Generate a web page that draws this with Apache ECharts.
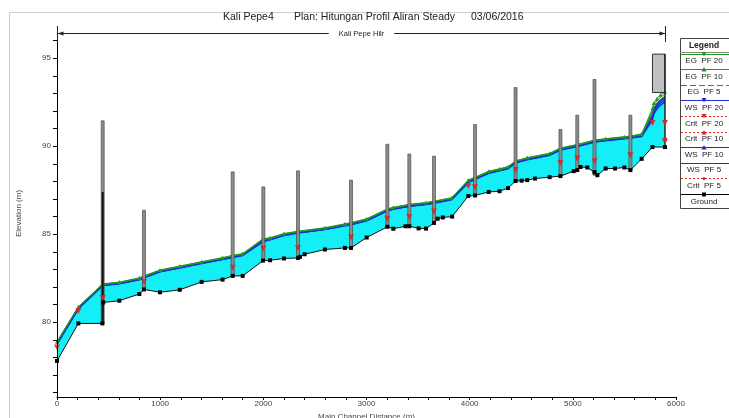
<!DOCTYPE html>
<html><head><meta charset="utf-8">
<script src="https://cdn.jsdelivr.net/npm/echarts@6/dist/echarts.min.js"></script>
<style>html,body{margin:0;padding:0;background:#fff;overflow:hidden}#c{width:729px;height:418px}</style>
</head><body><div id="c"></div>
<script>
// ---------- DATA ----------
const groundDist = [0,207,440,448,604,798,843,998,1190,1402,1605,1703,1800,1997,2065,2200,2336,2355,2400,2598,2791,2850,3002,3202,3260,3378,3415,3505,3577,3654,3690,3740,3830,3987,4052,4185,4290,4372,4445,4504,4558,4633,4775,4880,5008,5043,5075,5140,5210,5238,5318,5409,5499,5558,5667,5772,5893];
const groundElev = [77.8,79.93,79.93,81.12,81.22,81.6,81.86,81.7,81.84,82.29,82.42,82.63,82.63,83.5,83.52,83.62,83.65,83.71,83.86,84.13,84.22,84.22,84.81,85.42,85.31,85.45,85.45,85.33,85.32,85.64,85.88,85.95,86.0,87.17,87.2,87.4,87.44,87.62,88.02,88.04,88.07,88.16,88.24,88.3,88.58,88.64,88.82,88.79,88.52,88.35,88.73,88.73,88.79,88.64,89.28,89.95,89.95];

const wsDist = [0,207,443,604,798,843,998,1190,1402,1605,1703,1800,1997,2065,2200,2336,2598,2791,2850,3002,3202,3260,3415,3577,3654,3825,3987,4052,4185,4290,4372,4445,4558,4775,4880,5043,5210,5318,5499,5558,5667,5772,5785,5815,5850,5893];
const wsPF20 = [78.80,80.80,82.12,82.22,82.45,82.56,82.90,83.12,83.37,83.60,83.72,83.83,84.62,84.72,84.97,85.10,85.30,85.52,85.58,85.80,86.36,86.46,86.62,86.72,86.80,87.00,87.98,88.15,88.50,88.64,88.76,89.08,89.27,89.52,89.82,90.02,90.27,90.35,90.46,90.50,90.62,91.75,92.10,92.38,92.60,92.77];
const wsPF10 = [78.78,80.78,82.10,82.20,82.43,82.54,82.88,83.10,83.35,83.58,83.70,83.81,84.60,84.70,84.95,85.08,85.28,85.50,85.56,85.78,86.34,86.44,86.60,86.70,86.78,86.98,87.96,88.13,88.48,88.62,88.74,89.06,89.25,89.50,89.80,90.00,90.25,90.33,90.44,90.48,90.58,91.62,91.96,92.24,92.46,92.63];
const wsPF5  = [78.76,80.76,82.08,82.18,82.41,82.52,82.86,83.08,83.33,83.56,83.68,83.79,84.58,84.68,84.93,85.06,85.26,85.48,85.54,85.76,86.32,86.42,86.58,86.68,86.76,86.96,87.94,88.11,88.46,88.60,88.72,89.04,89.23,89.48,89.78,89.98,90.23,90.31,90.42,90.46,90.55,91.50,91.83,92.11,92.33,92.50];
const egPF20 = [78.90,80.88,82.18,82.28,82.52,82.63,82.97,83.19,83.44,83.67,83.80,83.90,84.74,84.80,85.04,85.17,85.37,85.59,85.66,85.88,86.44,86.53,86.70,86.80,86.88,87.07,88.08,88.24,88.58,88.72,88.84,89.17,89.35,89.60,89.90,90.10,90.35,90.43,90.54,90.58,90.70,92.15,92.45,92.70,92.92,93.09];
const egPF10 = [78.88,80.86,82.16,82.26,82.50,82.61,82.95,83.17,83.42,83.65,83.78,83.88,84.72,84.78,85.02,85.15,85.35,85.57,85.64,85.86,86.42,86.51,86.68,86.78,86.86,87.05,88.06,88.22,88.56,88.70,88.82,89.15,89.33,89.58,89.88,90.08,90.33,90.41,90.52,90.56,90.66,92.02,92.32,92.57,92.79,92.96];
const egPF5  = [78.86,80.84,82.14,82.24,82.48,82.59,82.93,83.15,83.40,83.63,83.76,83.86,84.70,84.76,85.00,85.13,85.33,85.55,85.62,85.84,86.40,86.49,86.66,86.76,86.84,87.03,88.04,88.20,88.54,88.68,88.80,89.13,89.31,89.56,89.86,90.06,90.31,90.39,90.50,90.54,90.62,91.90,92.20,92.45,92.67,92.84];

const critDist  = [0,207,443,843,1703,2000,2336,2850,3202,3415,3654,3987,4052,4445,4880,5043,5210,5558,5772,5893];
const critPF20  = [78.56,80.64,81.38,82.29,83.09,84.19,84.22,84.81,85.87,85.98,86.29,87.72,87.66,88.64,89.05,89.30,89.15,89.49,91.32,91.32];
const critPF5Dist = [5893];
const critPF5 = [90.38];

// vertical structure lines: station, bottom elevation, top elevation
const barDist   = [443,843,1703,2000,2336,2850,3202,3415,3654,4052,4445,4880,5043,5210,5558];
const barBottom = [79.93,81.86,82.63,83.52,83.65,84.22,85.42,85.45,85.64,87.2,88.02,88.3,88.64,88.35,88.64];
const barTop    = [91.44,86.36,88.54,87.69,88.6,88.07,90.11,89.55,89.43,91.23,93.33,90.95,91.76,93.79,91.76];
const innerDist = [443];
const innerTop  = [87.4];
// bridge deck at the upstream end
const deckDist = [5772,5893];
const deckElev = [93.05,95.23];

const yLabelValues = [80,85,90,95];
const yTickValues = [76,77,78,79,80,81,82,83,84,85,86,87,88,89,90,91,92,93,94,95,96];
const titleParts = ['Kali Pepe4','Plan: Hitungan Profil Aliran Steady','03/06/2016'];
const reachName = 'Kali Pepe Hilr';
const legendNames = ['EG  PF 20','EG  PF 10','EG  PF 5','WS  PF 20','Crit  PF 20','Crit  PF 10','WS  PF 10','WS  PF 5','Crit  PF 5','Ground'];

// ---------- CHART ----------
const FONT = '"Liberation Sans", Arial, sans-serif';
const GREEN = '#1f9a1f', BLUE = '#1f2fd8', RED = '#e3221c', CYAN = '#14eef6';
const pairs = (xs, ys) => xs.map((x, i) => [x, ys[i]]);
const chart = echarts.init(document.getElementById('c'));

const lineSeries = (data, color, width, z, extra) => Object.assign({
  type: 'line', data, symbol: 'none', animation: false, silent: true, z,
  lineStyle: { color, width }
}, extra || {});

chart.setOption({
  animation: false,
  grid: { left: 57, right: 53, top: 30, bottom: 21, outerBoundsMode: 'none', containLabel: false },
  xAxis: {
    type: 'value', min: 0, max: 6000, interval: 1000, z: 10,
    axisLine: { lineStyle: { color: '#000', width: 1 } },
    axisTick: { length: 3, lineStyle: { color: '#000' } },
    minorTick: { show: true, splitNumber: 5, length: 3, lineStyle: { color: '#000' } },
    splitLine: { show: false },
    axisLabel: { fontFamily: FONT, fontSize: 8, color: '#444', margin: 3, formatter: v => String(v) },
    name: 'Main Channel Distance (m)', nameLocation: 'middle', nameGap: 12,
    nameTextStyle: { fontFamily: FONT, fontSize: 8, color: '#444' }
  },
  yAxis: {
    type: 'value', min: 75.75, max: 96.6, z: 10,
    axisLine: { show: true, lineStyle: { color: '#000', width: 1 } },
    axisTick: { show: true, length: 4, customValues: yTickValues, lineStyle: { color: '#000' } },
    splitLine: { show: false },
    axisLabel: { fontFamily: FONT, fontSize: 8, color: '#444', margin: 6, customValues: yLabelValues },
    name: 'Elevation (m)', nameLocation: 'middle', nameRotate: 90, nameGap: 34,
    nameTextStyle: { fontFamily: FONT, fontSize: 8, color: '#444' }
  },
  series: [
    lineSeries(pairs(wsDist, wsPF20), CYAN, 0, 1, { areaStyle: { color: CYAN, opacity: 1, origin: 'start' } }),
    lineSeries(pairs(groundDist, groundElev), '#fff', 0, 2, { areaStyle: { color: '#fff', opacity: 1, origin: 'start' } }),
    lineSeries(pairs(wsDist, wsPF5), BLUE, 1.5, 3),
    lineSeries(pairs(wsDist, wsPF10), BLUE, 1.5, 3),
    lineSeries(pairs(wsDist, wsPF20), BLUE, 2, 3),
    lineSeries(pairs(wsDist, egPF5), GREEN, 1, 3),
    lineSeries(pairs(wsDist, egPF10), GREEN, 1, 3),
    lineSeries(pairs(wsDist, egPF20), GREEN, 1, 3, { symbol: 'triangle', symbolSize: 4, showAllSymbol: true, itemStyle: { color: GREEN } }),
    {
      type: 'custom', z: 4, silent: true, animation: false,
      data: barDist.map((d, i) => [d, barBottom[i], barTop[i]]),
      renderItem: (params, api) => {
        const a = api.coord([api.value(0), api.value(1)]);
        const b = api.coord([api.value(0), api.value(2)]);
        return { type: 'rect', shape: { x: a[0] - 1.5, y: b[1], width: 3, height: a[1] - b[1] },
          style: { fill: '#8c8c8c', stroke: '#3a3a3a', lineWidth: 0.6 } };
      }
    },
    {
      type: 'custom', z: 4, silent: true, animation: false,
      data: innerDist.map((d, i) => [d, barBottom[barDist.indexOf(d)], innerTop[i]]),
      renderItem: (params, api) => {
        const a = api.coord([api.value(0), api.value(1)]);
        const b = api.coord([api.value(0), api.value(2)]);
        return { type: 'line', shape: { x1: a[0], y1: a[1], x2: b[0], y2: b[1] }, style: { stroke: '#111', lineWidth: 2 } };
      }
    },
    {
      type: 'custom', z: 4, silent: true, animation: false,
      data: [[deckDist[0], deckDist[1], deckElev[0], deckElev[1]]],
      renderItem: (params, api) => {
        const p1 = api.coord([api.value(0), api.value(3)]);
        const p2 = api.coord([api.value(1), api.value(2)]);
        const gq = api.coord([api.value(1), groundElev[groundElev.length - 1]]);
        return { type: 'group', children: [
          { type: 'rect', shape: { x: p1[0], y: p1[1], width: p2[0] - p1[0], height: p2[1] - p1[1] },
            style: { fill: '#c0c0c0', stroke: '#333', lineWidth: 1 } },
          { type: 'line', shape: { x1: p2[0], y1: p1[1], x2: p2[0], y2: gq[1] }, style: { stroke: '#222', lineWidth: 1.5 } }
        ] };
      }
    },
    lineSeries(pairs(groundDist, groundElev), '#111', 1, 5, { symbol: 'rect', symbolSize: 4, showAllSymbol: true, itemStyle: { color: '#000' } }),
    { type: 'scatter', z: 6, silent: true, animation: false, data: pairs(critDist, critPF20),
      symbol: 'triangle', symbolRotate: 180, symbolSize: 6, itemStyle: { color: RED, opacity: 0.9 } },
    { type: 'scatter', z: 6, silent: true, animation: false, data: pairs(critPF5Dist, critPF5),
      symbol: 'circle', symbolSize: 5, itemStyle: { color: RED, opacity: 0.9 } }
  ]
});

// ---------- annotations: title, reach bracket, legend, frame ----------
const g = [];
const t = (x, y, text, size, align, extra) => g.push(Object.assign({ type: 'text', x, y, z: 20, silent: true,
  style: { text, fontFamily: FONT, fontSize: size, fill: '#222', align: align || 'left', verticalAlign: 'middle' } }, extra || {}));
const ln = (x1, y1, x2, y2, stroke, w, dash) => g.push({ type: 'line', z: 20, silent: true,
  shape: { x1, y1, x2, y2 }, style: { stroke, lineWidth: w || 1, lineDash: dash || null } });

ln(9.5, 12.5, 729, 12.5, '#cfcfcf', 1);
ln(9.5, 12.5, 9.5, 418, '#cfcfcf', 1);

t(223, 17, titleParts[0], 10.5);
t(294, 17, titleParts[1], 10.5);
t(471, 17, titleParts[2], 10.5);

const pa = chart.convertToPixel({ gridIndex: 0 }, [groundDist[0], 90]);
const pb = chart.convertToPixel({ gridIndex: 0 }, [groundDist[groundDist.length - 1], 90]);
const by = 33.5, xa = Math.round(pa[0]) + 0.5, xb = Math.round(pb[0]) + 0.5;
ln(xa, 26, xa, 42, '#222', 1);
ln(xb, 26, xb, 42, '#222', 1);
ln(xa, by, xb, by, '#222', 1);
g.push({ type: 'polygon', z: 20, silent: true, shape: { points: [[xa, by], [xa + 6, by - 2], [xa + 6, by + 2]] }, style: { fill: '#222' } });
g.push({ type: 'polygon', z: 20, silent: true, shape: { points: [[xb, by], [xb - 6, by - 2], [xb - 6, by + 2]] }, style: { fill: '#222' } });
t((xa + xb) / 2, by, reachName, 7.5, 'center', { style: { text: reachName, fontFamily: FONT, fontSize: 7.5, fill: '#222', align: 'center', verticalAlign: 'middle', backgroundColor: '#fff', padding: [1, 10] } });

const LX = 680, LY = 38, LW = 60, LH = 170;
g.push({ type: 'rect', z: 19, silent: true, shape: { x: LX + 0.5, y: LY + 0.5, width: LW, height: LH }, style: { fill: '#fff', stroke: '#444', lineWidth: 1 } });
t(LX + 24, LY + 7.5, 'Legend', 8.5, 'center', { style: { text: 'Legend', fontFamily: FONT, fontSize: 8.5, fontWeight: 'bold', fill: '#222', align: 'center', verticalAlign: 'middle' } });
ln(LX, LY + 14.5, LX + LW, LY + 14.5, '#888', 1);
const legStyle = [
  [GREEN, null, 'down'], [GREEN, null, 'up'], [GREEN, [6, 3], null], [BLUE, null, 'down'], [RED, [2, 2], 'down'],
  [RED, [2, 2], 'up'], [BLUE, null, 'up'], [BLUE, null, null], [RED, [2, 2], 'dot'], ['#000', null, 'sq']
];
legendNames.forEach((name, i) => {
  const ty = LY + 23 + i * 15.6;
  const ly = Math.round(ty - 7.5) + 0.5;
  const [c, dash, sym] = legStyle[i];
  ln(LX + 1, ly, LX + LW, ly, c, 1, dash);
  const cx = LX + 24;
  if (sym === 'down') g.push({ type: 'polygon', z: 21, silent: true, shape: { points: [[cx - 2.5, ly - 2.5], [cx + 2.5, ly - 2.5], [cx, ly + 2]] }, style: { fill: c } });
  if (sym === 'up') g.push({ type: 'polygon', z: 21, silent: true, shape: { points: [[cx - 2.5, ly + 2], [cx + 2.5, ly + 2], [cx, ly - 2.5]] }, style: { fill: c } });
  if (sym === 'dot') g.push({ type: 'circle', z: 21, silent: true, shape: { cx, cy: ly, r: 1.5 }, style: { fill: c } });
  if (sym === 'sq') g.push({ type: 'rect', z: 21, silent: true, shape: { x: cx - 2, y: ly - 2, width: 4, height: 4 }, style: { fill: c } });
  t(cx, ty, name, 8, 'center');
});

chart.setOption({ graphic: g });
</script>
</body></html>
